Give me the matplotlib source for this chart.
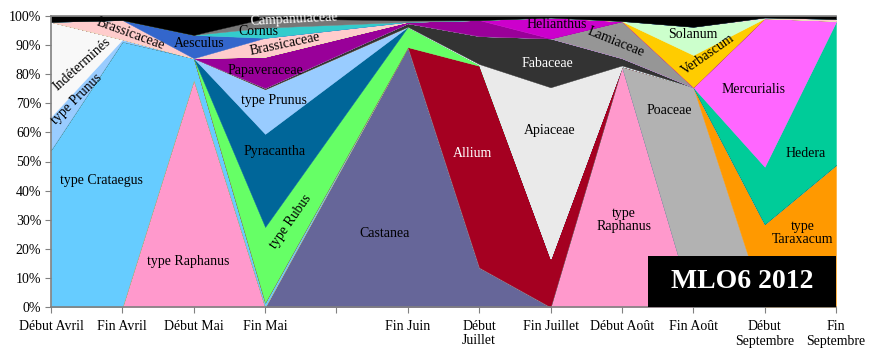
import matplotlib
matplotlib.use("Agg")
import matplotlib.pyplot as plt
import numpy as np

plt.rcParams['font.family'] = ['Liberation Serif', 'DejaVu Serif']

tick_labels = ["Début Avril", "Fin Avril", "Début Mai", "Fin Mai", "", "Fin Juin",
               "Début\nJuillet", "Fin Juillet", "Début Août", "Fin Août",
               "Début\nSeptembre", "Fin\nSeptembre"]
# sampling dates (category index 4 has no sample)
sample_idx = [0, 1, 2, 3, 5, 6, 7, 8, 9, 10, 11]

raphanus      = [0, 0, 78, 0, 0, 0, 0, 82.6, 0, 0, 0]
castanea      = [0, 0, 0, 0, 89.3, 13.6, 0, 0, 0, 0, 0]
poaceae       = [0, 0, 0, 0, 0, 0, 0, 0, 75.5, 0, 0]
taraxacum     = [0, 0, 0, 0, 0, 0, 0, 0, 0, 28.5, 48.8]
crataegus     = [54, 91.2, 7.5, 1.5, 0, 0, 0, 0, 0, 0, 0]
allium        = [0, 0, 0, 0, 0, 69.3, 16.7, 0.2, 0, 0, 0]
rubus         = [0, 0, 0, 26, 7, 0.4, 0, 0, 0, 0, 0]
pyracantha    = [0, 0, 0, 32, 0, 0, 0, 0, 0, 0, 0]
prunus        = [11.4, 0.8, 0, 15.3, 0, 0, 0, 0, 0, 0, 0]
indetermines  = [32.6, 0, 0, 0, 0, 0, 0, 0, 0, 0, 0]
apiaceae      = [0, 0, 0, 0, 0, 0.2, 58.8, 0.2, 0, 0, 0]
fabaceae      = [0, 0, 0, 0.5, 1.2, 9.6, 16.8, 2.5, 0, 0, 0]
hedera        = [0, 0, 0, 0, 0, 0, 0, 0, 0, 19.7, 49.2]
mercurialis   = [0, 0, 0, 0, 0, 0, 0, 0, 0, 51, 0.3]
lamiaceae     = [0, 0, 0, 0, 0, 0, 0, 12.7, 0, 0, 0]
papaveraceae  = [0, 0, 0, 10.7, 0.5, 5.5, 0, 0, 0, 0, 0]
helianthus    = [0, 0, 0, 0, 0, 0, 7.2, 0, 0, 0, 0]
verbascum     = [0, 0, 0, 0, 0, 0, 0, 0, 11.1, 0, 0]
solanum       = [0, 0, 0, 0, 0, 0, 0, 0.1, 9.7, 0, 0]
brassicaceae  = [0, 6.6, 0, 6.5, 0, 0, 0, 0, 0, 0.3, 0.7]
aesculus      = [0, 0, 8, 0, 0, 0, 0, 0, 0, 0, 0]
cornus        = [0, 0, 0, 3.5, 0, 0, 0, 0, 0, 0, 0]
campanulaceae = [0, 0, 0, 3.2, 0.5, 0, 0, 0, 0, 0, 0]
autres        = [2, 1.4, 6.5, 0.8, 1.5, 1.4, 0.5, 1.7, 3.7, 0.5, 1.0]

series = [
    (raphanus, "#FF99CC"), (castanea, "#666699"), (poaceae, "#B2B2B2"),
    (taraxacum, "#FF9900"), (crataegus, "#66CCFF"), (allium, "#A50021"),
    (rubus, "#66FF66"), (pyracantha, "#006699"), (prunus, "#99CCFF"),
    (indetermines, "#F8F8F8"), (apiaceae, "#EAEAEA"), (fabaceae, "#333333"),
    (hedera, "#00CC99"), (mercurialis, "#FF66FF"), (lamiaceae, "#969696"),
    (papaveraceae, "#990099"), (helianthus, "#CC00CC"), (verbascum, "#FFCC00"),
    (solanum, "#CCFFCC"), (brassicaceae, "#FFCCCC"), (aesculus, "#3366CC"),
    (cornus, "#33CCCC"), (campanulaceae, "#777777"), (autres, "#000000"),
]

fig = plt.figure(figsize=(8.69, 3.48), dpi=100)
ax = fig.add_axes([51/869, 1-307/348, (836-51)/869, (307-16)/348])

ys = [np.array(s, dtype=float) for s, c in series]
cols = [c for s, c in series]
ax.stackplot(sample_idx, *ys, colors=cols, edgecolor='face', linewidth=0.3)

ax.set_xlim(0, 11)
ax.set_ylim(0, 100)
ax.set_xticks(range(12))
ax.set_xticklabels(tick_labels, fontsize=10)
ax.set_yticks(range(0, 101, 10))
ax.set_yticklabels([f"{v}%" for v in range(0, 101, 10)], fontsize=10)
ax.tick_params(axis='both', direction='out', length=4, color='#808080')
ax.tick_params(axis='x', pad=5)
ax.tick_params(axis='y', pad=3)
for sp in ['left', 'bottom', 'top']:
    ax.spines[sp].set_color('#808080')
    ax.spines[sp].set_linewidth(1.2)
ax.spines['right'].set_visible(False)

labels = [
    ("Indéterminés", 0.44, 83.6, 42, 'black'),
    ("type Prunus", 0.36, 71.6, 45, 'black'),
    ("Brassicaceae", 1.12, 93.9, -20, 'black'),
    ("Aesculus", 2.07, 90.4, 0, 'black'),
    ("Campanulaceae", 3.4, 98.8, 3, 'white'),
    ("Cornus", 2.91, 94.6, 0, 'black'),
    ("Brassicaceae", 3.28, 90.4, 12, 'black'),
    ("Papaveraceae", 3.01, 81.4, 0, 'black'),
    ("type Prunus", 3.12, 71.1, 0, 'black'),
    ("Pyracantha", 3.14, 53.3, 0, 'black'),
    ("type Crataegus", 0.71, 43.6, 0, 'black'),
    ("type Raphanus", 1.92, 15.8, 0, 'black'),
    ("type Rubus", 3.36, 29.2, 55, 'black'),
    ("Castanea", 4.68, 25.1, 0, 'black'),
    ("Allium", 5.91, 52.6, 0, 'white'),
    ("Apiaceae", 6.99, 60.5, 0, 'black'),
    ("Fabaceae", 6.96, 83.8, 0, 'white'),
    ("Helianthus", 7.09, 97.2, 0, 'black'),
    ("Lamiaceae", 7.91, 91.1, -22, 'black'),
    ("Solanum", 8.99, 93.8, 0, 'black'),
    ("Verbascum", 9.2, 86.6, 35, 'black'),
    ("Mercurialis", 9.85, 74.6, 0, 'black'),
    ("Poaceae", 8.66, 67.4, 0, 'black'),
    ("type\nRaphanus", 8.03, 29.9, 0, 'black'),
    ("Hedera", 10.57, 52.9, 0, 'black'),
    ("type\nTaraxacum", 10.53, 25.4, 0, 'black'),
]
for txt, x, y, rot, col in labels:
    ax.text(x, y, txt, ha='center', va='center', rotation=rot, color=col,
            fontsize=10, linespacing=1.0)

# title box
fig.patches.append(plt.Rectangle((648/869, 1-307/348), (836-648)/869, (307-256)/348,
                                 transform=fig.transFigure, facecolor='black',
                                 edgecolor='none', zorder=5))
fig.text((648+836)/2/869, 1-281.5/348, "MLO6 2012", color='white', fontsize=20,
         fontweight='bold', ha='center', va='center', zorder=6)

fig.savefig("out.png", dpi=100)
